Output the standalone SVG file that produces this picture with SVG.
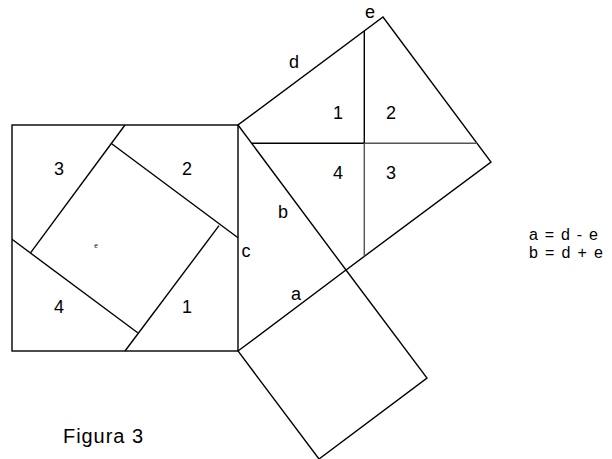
<svg xmlns="http://www.w3.org/2000/svg" width="612" height="459" viewBox="0 0 612 459">
<style>
.s{fill:none;stroke:#000;stroke-width:1.4;stroke-linejoin:miter}
.g{fill:none;stroke:#555;stroke-width:1.4}
.t{font-family:"Liberation Sans",Arial,sans-serif;font-size:18px;fill:#000;text-anchor:middle}
.l{font-family:"Liberation Sans",Arial,sans-serif;font-size:16px;fill:#000}
</style>
<rect width="612" height="459" fill="#fff"/>
<g id="left-square">
<rect class="s" x="12" y="125" width="226" height="226"/>
<line class="s" x1="125" y1="125" x2="30.7" y2="252.7"/>
<line class="s" x1="12" y1="239.3" x2="137.7" y2="332.7"/>
<line class="s" x1="125" y1="351" x2="219" y2="225.7"/>
<line class="s" x1="238" y1="237.7" x2="111" y2="143.3"/>
<text class="t" x="59" y="175">3</text>
<text class="t" x="187" y="175">2</text>
<text class="t" x="59" y="313">4</text>
<text class="t" x="187" y="313">1</text>
<text x="96" y="248" style="font-family:'Liberation Serif',serif;font-size:8px;text-anchor:middle">e</text>
</g>
<g id="triangle">
<text class="t" x="246" y="257">c</text>
<text class="t" x="283" y="218">b</text>
<text class="t" x="296" y="300">a</text>
</g>
<g id="square-b">
<polygon class="s" points="238,125 346,270 491,162 383,17"/>
<line class="s" x1="251.6" y1="143.3" x2="364.3" y2="143.3"/>
<line class="g" x1="364.3" y1="143.3" x2="477" y2="143.3"/>
<line class="s" x1="364.3" y1="31" x2="364.3" y2="143.3"/>
<line class="g" x1="364.3" y1="143.3" x2="364.3" y2="256.4"/>
<text class="t" x="338" y="119">1</text>
<text class="t" x="391" y="119">2</text>
<text class="t" x="338" y="179">4</text>
<text class="t" x="391" y="179">3</text>
<text class="t" x="294" y="68">d</text>
<text class="t" x="370" y="18">e</text>
</g>
<g id="square-a">
<polygon class="s" points="238,351 346,270 427,378 319,459"/>
</g>
<g id="formulas">
<text class="l" x="529" y="240" textLength="69" lengthAdjust="spacing">a = d - e</text>
<text class="l" x="529" y="258" textLength="74" lengthAdjust="spacing">b = d + e</text>
</g>
<g id="caption">
<text class="l" x="63" y="443" style="font-size:20px" textLength="80" lengthAdjust="spacing">Figura 3</text>
</g>
</svg>
